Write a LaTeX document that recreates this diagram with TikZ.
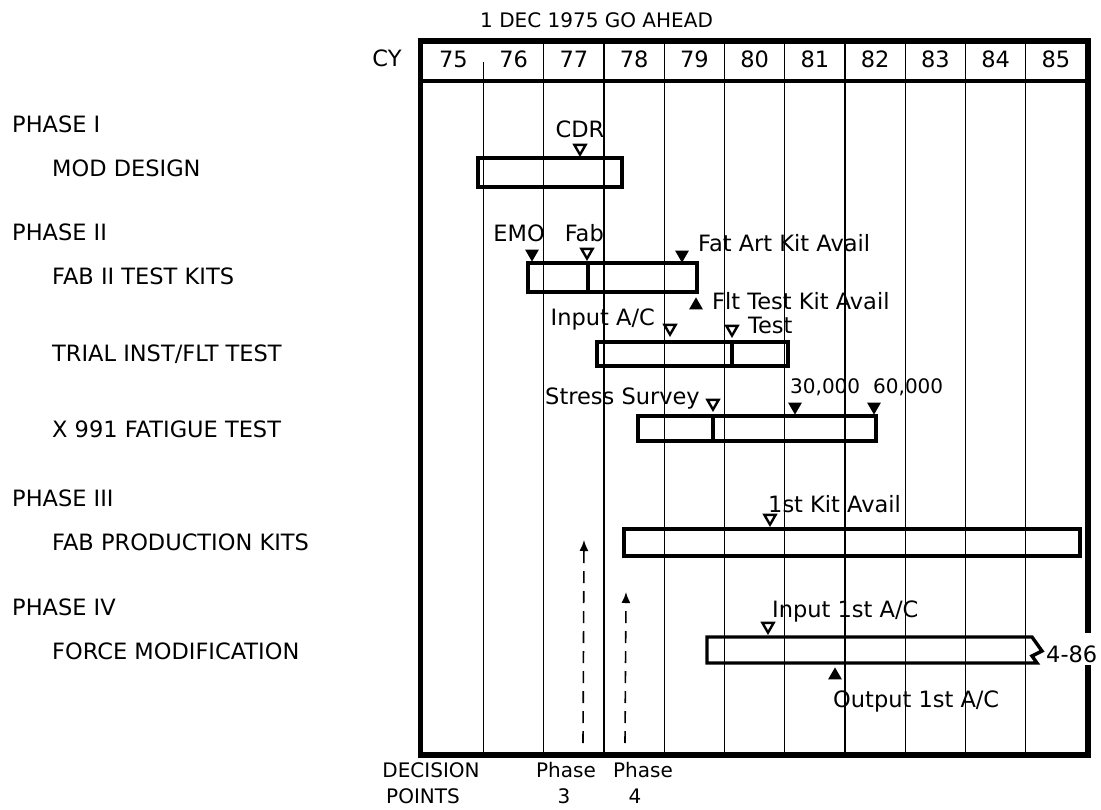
\documentclass[tikz,border=0pt]{standalone}
\usepackage{fontspec}
\setmainfont{DejaVu Sans}
\usetikzlibrary{arrows.meta, shapes.geometric}

\newcommand{\labfont}{\fontsize{22.5}{26}\selectfont}
\newcommand{\smfont}{\fontsize{20}{23}\selectfont}

\begin{document}
\begin{tikzpicture}[x=1pt, y=-1pt,
  frame/.style={line width=5.5pt, line join=miter},
  grid/.style={line width=1.4pt},
  bar/.style={line width=3.4pt},
  lab/.style={inner sep=0pt, font=\labfont},
  sml/.style={inner sep=0pt, font=\smfont},
  opendn/.style={regular polygon, regular polygon sides=3, shape border rotate=180,
    draw, line width=2.4pt, minimum size=13pt, inner sep=0pt, anchor=corner 1},
  filldn/.style={regular polygon, regular polygon sides=3, shape border rotate=180,
    fill, minimum size=16pt, inner sep=0pt, anchor=corner 1},
  fillup/.style={regular polygon, regular polygon sides=3,
    fill, minimum size=16pt, inner sep=0pt, anchor=corner 1},
  decarrow/.style={line width=1.6pt, dash pattern=on 12pt off 8pt,
    -{Latex[length=11pt, width=9pt]}}]

\useasboundingbox (0,0) rectangle (1101,810);

% ---- calendar frame and year grid ---------------------------------------
\draw[frame] (1088,633) -- (1088,41) -- (420.5,41) -- (420.5,755)
  -- (1088,755) -- (1088,665);
\draw[line width=4pt] (420.5,81) -- (1088,81);
\draw[grid] (483.5,62) -- (483.5,755);
\foreach \k in {1,...,9}
  \draw[grid] (483.5+60.25*\k,41) -- (483.5+60.25*\k,755);
\foreach \yr in {75,...,85}
  \node[lab, anchor=base] (y\yr) at (513.6+60.25*\yr-60.25*76,68) {\yr};
\node[lab, anchor=base] (cy) at (387,67) {CY};
\node[sml, anchor=base west] (goahead) at (480,28) {1 DEC 1975 GO AHEAD};

% ---- row labels ---------------------------------------------------------
\node[lab, anchor=base west] (ph1)   at (12,133) {PHASE I};
\node[lab, anchor=base west] (mod)   at (52,177) {MOD DESIGN};
\node[lab, anchor=base west] (ph2)   at (12,241) {PHASE II};
\node[lab, anchor=base west] (fab2)  at (52,285) {FAB II TEST KITS};
\node[lab, anchor=base west] (trial) at (52,362) {TRIAL INST/FLT TEST};
\node[lab, anchor=base west] (fatig) at (52,437) {X 991 FATIGUE TEST};
\node[lab, anchor=base west] (ph3)   at (12,506) {PHASE III};
\node[lab, anchor=base west] (prod)  at (52,550) {FAB PRODUCTION KITS};
\node[lab, anchor=base west] (ph4)   at (12,615) {PHASE IV};
\node[lab, anchor=base west] (force) at (52,659) {FORCE MODIFICATION};

% ---- bars ---------------------------------------------------------------
\draw[bar] (478,158) rectangle (622,187);
\draw[bar] (528,263) rectangle (697,292);
\draw[bar] (588,263) -- (588,292);
\draw[bar] (597,342) rectangle (788,366);
\draw[bar] (732,342) -- (732,366);
\draw[bar] (638,416) rectangle (876,441);
\draw[bar] (713,416) -- (713,441);
\draw[bar] (624,529) rectangle (1080,556);
\draw[bar] (1032,637) -- (707,637) -- (707,663) -- (1037,663)
  -- (1032,656) -- (1042,651) -- cycle;

% ---- milestones ---------------------------------------------------------
\node[opendn] (cdr) at (580,157) {};
\node[lab, anchor=base] (cdrt) at (580,138) {CDR};
\node[filldn] (emo) at (532,262) {};
\node[lab, anchor=base east] (emot) at (545,242) {EMO};
\node[opendn] (fab) at (587,261) {};
\node[lab, anchor=base east] (fabt) at (604,242) {Fab};
\node[filldn] (fatart) at (682,263) {};
\node[lab, anchor=base west] (fatartt) at (698,252) {Fat Art Kit Avail};
\node[fillup] (flt) at (696,297) {};
\node[lab, anchor=base west] (fltt) at (712,310) {Flt Test Kit Avail};
\node[opendn] (inac) at (670,337) {};
\node[lab, anchor=base east] (inact) at (655,326) {Input A/C};
\node[opendn] (test) at (732,338) {};
\node[lab, anchor=base west] (testt) at (748,334) {Test};
\node[opendn] (stress) at (713,412) {};
\node[lab, anchor=base east] (stresst) at (700,404) {Stress Survey};
\node[filldn] (k30) at (795,415) {};
\node[sml, anchor=base west] (k30t) at (790,393) {30,000};
\node[filldn] (k60) at (874,415) {};
\node[sml, anchor=base west] (k60t) at (873,393) {60,000};
\node[opendn] (kit1) at (770,527) {};
\node[lab, anchor=base west] (kit1t) at (768,512) {1st Kit Avail};
\node[opendn] (in1) at (768,635) {};
\node[lab, anchor=base west] (in1t) at (772,617) {Input 1st A/C};
\node[fillup] (out1) at (835,667) {};
\node[lab, anchor=base west] (out1t) at (833,707) {Output 1st A/C};
\node[lab, anchor=base west] (end86) at (1046,662) {4-86};

% ---- decision points ----------------------------------------------------
\coordinate (p3base) at (583,743);
\coordinate (p3tip)  at (584,540);
\coordinate (p4base) at (625,743);
\coordinate (p4tip)  at (626,592);
\draw[decarrow] (p3base) -- (p3tip);
\draw[decarrow] (p4base) -- (p4tip);
\node[sml, anchor=base] (dec) at (431,777) {DECISION};
\node[sml, anchor=base] (pts) at (423,803) {POINTS};
\node[sml, anchor=base] (ph3a) at (566,777) {Phase};
\node[sml, anchor=base] (ph3b) at (564,803) {3};
\node[sml, anchor=base] (ph4a) at (643,777) {Phase};
\node[sml, anchor=base] (ph4b) at (635,803) {4};
\end{tikzpicture}
\end{document}
